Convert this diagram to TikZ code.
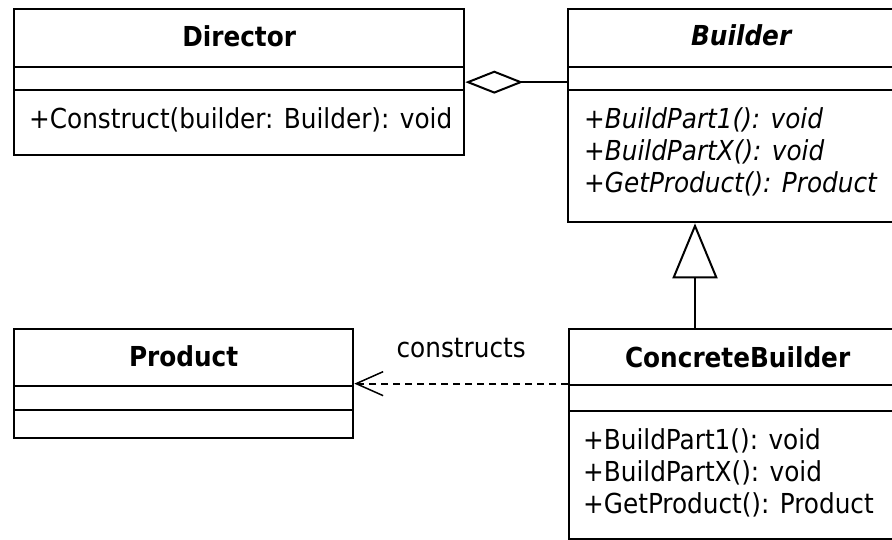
\documentclass[tikz,border=0pt]{standalone}
\usepackage{fontspec}
\setmainfont{DejaVu Sans Condensed}
\usetikzlibrary{arrows.meta,calc}
\newcommand{\umlsize}{\fontsize{27.5}{32}\selectfont}
\begin{document}
\begin{tikzpicture}[x=1pt,y=-1pt,line width=2.3pt,
  classbox/.style={draw,rectangle,anchor=north west,inner sep=0pt},
  classname/.style={font=\umlsize\bfseries,anchor=base,inner sep=0pt},
  member/.style={font=\umlsize,anchor=base west,inner sep=0pt},
  connector/.style={line width=2pt},
]
\clip (0,0) rectangle (892,540);
\fill[white] (0,0) rectangle (892,540);

% Director
\node[classbox,minimum width=450pt,minimum height=146pt] (director) at (13,8) {};
\draw ($(director.north west)+(0,59)$) -- ($(director.north east)+(0,59)$);
\draw ($(director.north west)+(0,82)$) -- ($(director.north east)+(0,82)$);
\node[classname] (directorname) at ($(director.north)+(0,39)$) {Director};
\node[member] (directorop) at ($(director.north west)+(15,121)$) {+Construct(builder: Builder): void};

% Builder (abstract)
\node[classbox,minimum width=346pt,minimum height=213pt] (builder) at (567,8) {};
\draw ($(builder.north west)+(0,59)$) -- ($(builder.north east)+(0,59)$);
\draw ($(builder.north west)+(0,82)$) -- ($(builder.north east)+(0,82)$);
\node[classname,font=\umlsize\bfseries\itshape] (buildername) at ($(builder.north)+(0,38)$) {Builder};
\node[member,font=\umlsize\itshape] (builderop1) at ($(builder.north west)+(16,121)$) {+BuildPart1(): void};
\node[member,font=\umlsize\itshape] (builderop2) at ($(builder.north west)+(16,153)$) {+BuildPartX(): void};
\node[member,font=\umlsize\itshape] (builderop3) at ($(builder.north west)+(16,185)$) {+GetProduct(): Product};

% Product
\node[classbox,minimum width=339pt,minimum height=109pt] (product) at (13,328) {};
\draw ($(product.north west)+(0,58)$) -- ($(product.north east)+(0,58)$);
\draw ($(product.north west)+(0,82)$) -- ($(product.north east)+(0,82)$);
\node[classname] (productname) at ($(product.north)+(0,38)$) {Product};

% ConcreteBuilder
\node[classbox,minimum width=337pt,minimum height=210pt] (concrete) at (568,328) {};
\draw ($(concrete.north west)+(0,57)$) -- ($(concrete.north east)+(0,57)$);
\draw ($(concrete.north west)+(0,83)$) -- ($(concrete.north east)+(0,83)$);
\node[classname] (concretename) at ($(concrete.north)+(0,39)$) {ConcreteBuilder};
\node[member] (concreteop1) at ($(concrete.north west)+(14,121)$) {+BuildPart1(): void};
\node[member] (concreteop2) at ($(concrete.north west)+(14,153)$) {+BuildPartX(): void};
\node[member] (concreteop3) at ($(concrete.north west)+(14,185)$) {+GetProduct(): Product};

% Aggregation: Director holds a Builder
\draw[connector,{Diamond[open,length=58pt,width=23pt]}-] (director.east) -- (director.east -| builder.west);

% Generalization: ConcreteBuilder is a Builder
\coordinate (genbase) at ($(concrete.north west)+(127,0)$);
\draw[connector,-{Triangle[open,length=55pt,width=45pt,fill=white]}] (genbase) -- (genbase |- builder.south);

% Dependency: ConcreteBuilder constructs Product
\draw[connector,dash pattern=on 7pt off 5pt,-{Straight Barb[length=27pt,width=24pt,line width=1.5pt]}]
  (concrete.west |- product.east) -- (product.east);
\node[member,anchor=base] (constructs)
  at ($(product.east)!0.5!(concrete.west |- product.east)+(0,-26)$) {constructs};
\end{tikzpicture}
\end{document}
